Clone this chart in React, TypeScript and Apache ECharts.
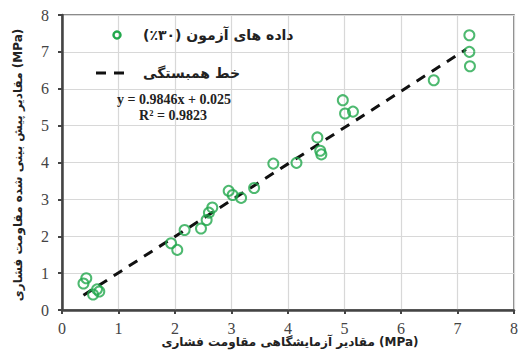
import React, { useEffect, useRef } from "react";
import * as echarts from "echarts";

const measured: number[] = [
  0.38, 0.43, 0.55, 0.62, 0.66, 1.93, 2.04, 2.17, 2.46, 2.56, 2.6, 2.66, 2.95, 3.02, 3.17, 3.4,
  3.74, 4.15, 4.52, 4.57, 4.59, 4.97, 5.01, 5.15, 6.58, 7.21, 7.21, 7.22,
];
const predicted: number[] = [
  0.72, 0.86, 0.42, 0.56, 0.5, 1.81, 1.63, 2.17, 2.21, 2.44, 2.64, 2.78, 3.23, 3.12, 3.04, 3.31,
  3.97, 3.99, 4.68, 4.32, 4.22, 5.69, 5.33, 5.38, 6.23, 7.45, 7.0, 6.61,
];
const fitX: number[] = [0.38, 7.15];
const slope = 0.9846;
const intercept = 0.025;
const axisTicks: number[] = [0, 1, 2, 3, 4, 5, 6, 7, 8];

const legendData = "داده های آزمون (۳۰٪)";
const legendFit = "خط همبستگی";
const eqText = "y = 0.9846x + 0.025";
const r2Text = "R² = 0.9823";
const xTitle = "مقادیر آزمایشگاهی مقاومت فشاری (MPa)";
const yTitle = "مقادیر پیش بینی شده مقاومت فشاری (MPa)";

export default function App() {
  const ref = useRef<HTMLDivElement>(null);
  useEffect(() => {
    if (!ref.current) return;
    const chart = echarts.init(ref.current, null, { renderer: "svg" });
    const green = "#22a84c";
    const pts = measured.map((x, i) => [x, predicted[i]]);
    const line = fitX.map((x) => [x, slope * x + intercept]);
    const axisCommon = {
      type: "value" as const,
      min: axisTicks[0],
      max: axisTicks[axisTicks.length - 1],
      interval: 1,
      axisLine: { show: true, lineStyle: { color: "#444", width: 2.5 } },
      axisTick: { show: true, inside: false, length: 4, lineStyle: { color: "#444", width: 2 } },
      axisLabel: { color: "#444", fontFamily: "Liberation Serif", fontSize: 16 },
      splitLine: { show: true, lineStyle: { color: "#d8d8d8", width: 1.2 } },
    };
    chart.setOption({
      animation: false,
      grid: {
        left: 62,
        right: 4,
        top: 15,
        bottom: 40,
        show: true,
        borderColor: "#666",
        borderWidth: 1.5,
        backgroundColor: "#fff",
      },
      xAxis: { ...axisCommon, axisLabel: { ...axisCommon.axisLabel, margin: 10 } },
      yAxis: { ...axisCommon, axisLabel: { ...axisCommon.axisLabel, margin: 13 } },
      series: [
        {
          type: "line",
          data: line,
          showSymbol: false,
          symbol: "none",
          lineStyle: { color: "#111", width: 3, type: [10, 8] },
          z: 2,
        },
        {
          type: "scatter",
          data: pts,
          symbol: "circle",
          symbolSize: 10,
          itemStyle: { color: "rgba(255,255,255,0)", borderColor: green, borderWidth: 2 },
          z: 3,
        },
      ],
      graphic: [
        { type: "circle", shape: { cx: 117, cy: 35, r: 3.5 }, style: { fill: "none", stroke: green, lineWidth: 2.5 }, z: 10 },
        {
          type: "text",
          x: 143,
          y: 35,
          style: { text: legendData, fill: "#222", font: "bold 14px 'DejaVu Sans'", textAlign: "left", textVerticalAlign: "middle" },
          z: 10,
        },
        {
          type: "line",
          shape: { x1: 96, y1: 73, x2: 127, y2: 73 },
          style: { stroke: "#111", lineWidth: 3, lineDash: [10, 8] },
          z: 10,
        },
        {
          type: "text",
          x: 143,
          y: 73,
          style: { text: legendFit, fill: "#222", font: "bold 14px 'DejaVu Sans'", textAlign: "left", textVerticalAlign: "middle" },
          z: 10,
        },
        {
          type: "text",
          x: 174,
          y: 99,
          style: { text: eqText, fill: "#222", font: "bold 14px 'Liberation Serif'", textAlign: "center", textVerticalAlign: "middle" },
          z: 10,
        },
        {
          type: "text",
          x: 173,
          y: 115,
          style: { text: r2Text, fill: "#222", font: "bold 14px 'Liberation Serif'", textAlign: "center", textVerticalAlign: "middle" },
          z: 10,
        },
        {
          type: "text",
          x: 18,
          y: 165,
          rotation: Math.PI / 2,
          style: { text: yTitle, fill: "#222", font: "bold 12px 'DejaVu Sans'", textAlign: "center", textVerticalAlign: "middle" },
          z: 10,
        },
        {
          type: "text",
          x: 290,
          y: 342,
          style: { text: xTitle, fill: "#222", font: "bold 12px 'DejaVu Sans'", textAlign: "center", textVerticalAlign: "middle" },
          z: 10,
        },
      ],
    });
    return () => chart.dispose();
  }, []);
  return <div ref={ref} style={{ position: "absolute", left: 0, top: 0, width: 521, height: 350 }} />;
}
